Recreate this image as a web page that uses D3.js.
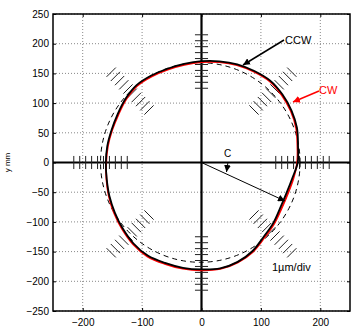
<!DOCTYPE html>
<html>
<head>
<meta charset="utf-8">
<script src="https://cdn.jsdelivr.net/npm/d3@7"></script>
<style>
  body { margin: 0; background: #fff; }
  svg { display: block; font-family: "Liberation Sans", Arial, sans-serif; }
</style>
</head>
<body>
<svg id="svg" width="352" height="329"></svg>
<script>
// ---- data ----
const xTicks = [-200, -100, 0, 100, 200];
const yTicks = [-250, -200, -150, -100, -50, 0, 50, 100, 150, 200, 250];
// profile angles (deg) and radii (mm)
const angles = [0, 10, 20, 30, 40, 50, 60, 70, 80, 90, 100, 110, 120, 130, 140, 150, 160, 170,
                180, 190, 200, 210, 220, 230, 240, 250, 260, 270, 280, 290, 300, 310, 320, 330, 340, 350];
const rCCW = [162, 165, 171, 175, 178, 180, 178, 176, 173, 170.5, 168.5, 168, 169, 170, 167, 163, 161, 161,
              161, 162, 165, 168.5, 173, 178, 181, 180, 180, 180, 181, 178, 172, 163, 158, 153, 152, 155];
const rCW  = [161, 164, 169.5, 173.5, 176.5, 178.5, 176.5, 174.5, 171.5, 169, 167, 166.5, 167.5, 168.5, 165.5, 161.5, 160, 160,
              160.5, 162.5, 166, 170, 174.5, 179.5, 182.5, 181.5, 181.5, 181.5, 182, 179, 173.5, 165, 160, 155.5, 154.5, 157];
// nominal reference circle
const refCenter = [-2, 0];
const refRadius = 168;
// division marks
const divAngles = [0, 45, 90, 135, 180, 225, 270, 315];
const divRadii = [125, 135, 145, 155, 165, 175, 185, 195, 205, 215];

const svgRoot = document.getElementById('svg');
const svg = d3.select(svgRoot);

const x = d3.scaleLinear().domain([-250, 250]).range([53, 350]);
const y = d3.scaleLinear().domain([-250, 250]).range([311, 14]);

//------ grid ------
const grid = svg.append('g')
    .attr('stroke', '#888')
    .attr('stroke-width', 1)
    .attr('stroke-dasharray', '1,2');
grid.selectAll('.vg').data(xTicks).enter().append('line')
    .attr('x1', d => x(d)).attr('x2', d => x(d))
    .attr('y1', y(250)).attr('y2', y(-250));
grid.selectAll('.hg').data(yTicks).enter().append('line')
    .attr('x1', x(-250)).attr('x2', x(250))
    .attr('y1', d => y(d)).attr('y2', d => y(d));

//------ axes ------
const fmt = d3.format('d');
svg.append('g').attr('transform', `translate(0,${y(-250)})`)
    .call(d3.axisBottom(x).tickValues(xTicks).tickSize(-3).tickPadding(8).tickFormat(fmt));
svg.append('g').attr('transform', `translate(${x(-250)},0)`)
    .call(d3.axisLeft(y).tickValues(yTicks).tickSize(-3).tickPadding(4).tickFormat(fmt));
svg.append('g').attr('transform', `translate(0,${y(250)})`)
    .call(d3.axisTop(x).tickValues(xTicks).tickSize(-3).tickFormat(''));
svg.append('g').attr('transform', `translate(${x(250)},0)`)
    .call(d3.axisRight(y).tickValues(yTicks).tickSize(-3).tickFormat(''));
svg.selectAll('.domain').remove();
svg.selectAll('.tick line').attr('stroke', '#000');
svg.selectAll('.tick text').attr('font-size', 10).attr('fill', '#000')
    .attr('font-family', '"Liberation Sans", Arial, sans-serif');

svg.append('rect')
    .attr('x', x(-250)).attr('y', y(250))
    .attr('width', x(250) - x(-250)).attr('height', y(-250) - y(250))
    .attr('fill', 'none').attr('stroke', '#000').attr('stroke-width', 1.5);

// y label
svg.append('text')
    .attr('transform', `translate(10,${y(0)}) rotate(-90)`)
    .attr('text-anchor', 'middle')
    .attr('font-size', 8)
    .text('y mm');

//------ cross axes ------
svg.append('line').attr('x1', x(-250)).attr('x2', x(250))
    .attr('y1', y(0)).attr('y2', y(0))
    .attr('stroke', '#000').attr('stroke-width', 2.2);
svg.append('line').attr('x1', x(0)).attr('x2', x(0))
    .attr('y1', y(250)).attr('y2', y(-250))
    .attr('stroke', '#000').attr('stroke-width', 2.2);

//------ division marks ------
const half = 11;
const marks = [];
divAngles.forEach(a => {
    const t = a * Math.PI / 180;
    divRadii.forEach(r => {
        const cx = r * Math.cos(t), cy = r * Math.sin(t);
        const px = -Math.sin(t), py = Math.cos(t);
        marks.push([cx - half * px, cy - half * py, cx + half * px, cy + half * py]);
    });
});
svg.append('g').selectAll('line').data(marks).enter().append('line')
    .attr('x1', d => x(d[0])).attr('y1', d => y(d[1]))
    .attr('x2', d => x(d[2])).attr('y2', d => y(d[3]))
    .attr('stroke', '#222').attr('stroke-width', 1);

//------ reference circle ------
svg.append('ellipse')
    .attr('cx', x(refCenter[0])).attr('cy', y(refCenter[1]))
    .attr('rx', x(refRadius) - x(0)).attr('ry', y(0) - y(refRadius))
    .attr('fill', 'none').attr('stroke', '#000').attr('stroke-width', 1)
    .attr('stroke-dasharray', '5,4');

//------ profiles ------
const profile = rs => d3.line()
    .x((d, i) => x(rs[i] * Math.cos(angles[i] * Math.PI / 180)))
    .y((d, i) => y(rs[i] * Math.sin(angles[i] * Math.PI / 180)))
    .curve(d3.curveCatmullRomClosed)(angles);

svg.append('path').attr('d', profile(rCW))
    .attr('fill', 'none').attr('stroke', '#f00').attr('stroke-width', 1.8);
svg.append('path').attr('d', profile(rCCW))
    .attr('fill', 'none').attr('stroke', '#000').attr('stroke-width', 1.8);

//------ annotations ------
const defs = svg.append('defs');
const mk = (id, col) => defs.append('marker').attr('id', id)
    .attr('viewBox', '0 0 10 10').attr('refX', 10).attr('refY', 5)
    .attr('markerWidth', 7).attr('markerHeight', 7).attr('markerUnits', 'userSpaceOnUse')
    .attr('orient', 'auto')
    .append('path').attr('d', 'M0,0L10,5L0,10z').attr('fill', col);
mk('ahk', '#000');
mk('ahr', '#f00');

svg.append('line').attr('x1', 284).attr('y1', 40).attr('x2', 243).attr('y2', 65)
    .attr('stroke', '#000').attr('stroke-width', 1.5).attr('marker-end', 'url(#ahk)');
svg.append('text').attr('x', 285).attr('y', 44).attr('font-size', 11).text('CCW');

svg.append('line').attr('x1', 319).attr('y1', 91).attr('x2', 293).attr('y2', 102)
    .attr('stroke', '#f00').attr('stroke-width', 1.5).attr('marker-end', 'url(#ahr)');
svg.append('text').attr('x', 319).attr('y', 94).attr('font-size', 11).attr('fill', '#f00').text('CW');

svg.append('line').attr('x1', x(0)).attr('y1', y(0)).attr('x2', 285).attr('y2', 201)
    .attr('stroke', '#000').attr('stroke-width', 1).attr('marker-end', 'url(#ahk)');
svg.append('line').attr('x1', 228).attr('y1', 162).attr('x2', 226.5).attr('y2', 172)
    .attr('stroke', '#000').attr('stroke-width', 1).attr('marker-end', 'url(#ahk)');
svg.append('text').attr('x', 224).attr('y', 157).attr('font-size', 10).text('C');

svg.append('text').attr('x', 272).attr('y', 271).attr('font-size', 11).text('1\u00b5m/div');
</script>
</body>
</html>
